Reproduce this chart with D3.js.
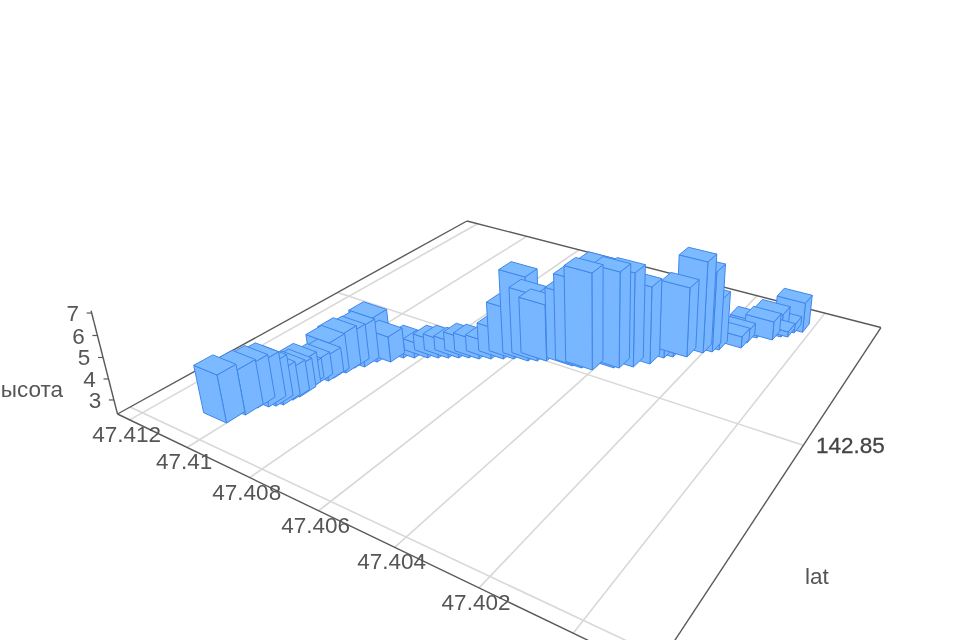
<!DOCTYPE html>
<html><head><meta charset="utf-8"><script src="https://cdn.jsdelivr.net/npm/d3@7"></script>
<style>html,body{margin:0;background:#fff;overflow:hidden}svg{display:block;filter:blur(.5px)}</style></head>
<body><svg id="c" width="960" height="640"></svg>
<script>
const latTicks=[47.412,47.41,47.408,47.406,47.404,47.402,47.4];
const latLabels=["47.412","47.41","47.408","47.406","47.404","47.402","47.4"];
const lngTicks=[142.8,142.85];
const zTicks=[3,4,5,6,7];
const barLat=[47.41039,47.41027,47.41025,47.41006,47.40994,47.40983,47.40979,47.40975,47.40981,47.40990,47.40981,47.40967,47.40965,47.40956,47.40954,47.40936,47.40925,47.40896,47.40881,47.40857,47.40828,47.40805,47.40783,47.40760,47.40738,47.40713,47.40687,47.40660,47.40637,47.40601,47.40581,47.40561,47.40491,47.40467,47.40440,47.40432,47.40399,47.40387,47.40359,47.40330,47.40313,47.40295,47.40265,47.40238,47.40220,47.40209,47.40164,47.40161,47.40149,47.40110,47.40096,47.40081,47.40074,47.40056];
const barLng=[142.80743,142.81069,142.81323,142.81444,142.81529,142.81618,142.81812,142.81940,142.82099,142.82245,142.82402,142.82578,142.82702,142.82941,142.83148,142.83273,142.83523,142.83656,142.83889,142.83997,142.84128,142.84229,142.84326,142.84431,142.84531,142.84599,142.84714,142.84836,142.84941,142.85018,142.85105,142.85197,142.85304,142.85330,142.85372,142.85731,142.85640,142.85687,142.85855,142.86107,142.86432,142.86552,142.86688,142.86979,142.87103,142.87235,142.87524,142.87758,142.88033,142.88119,142.88314,142.88381,142.88598,142.88710];
const barH=[4.58,4.46,4.39,4.48,4.30,3.92,3.78,3.74,3.80,3.27,3.42,3.52,4.07,4.23,4.09,4.29,4.55,3.60,3.10,3.15,2.89,3.15,3.15,3.04,3.25,3.25,3.15,3.76,4.81,6.50,5.63,5.15,5.85,6.60,7.06,7.02,6.22,7.03,6.94,6.15,3.86,5.06,5.80,6.88,6.35,4.89,2.90,2.90,3.17,3.27,3.49,2.59,2.75,3.86];
const P={a:341.7,b:563.9,c:117.5,d:57.9,e:-91.5,f:414,g:-0.2978,h:0.4592,vx:600,vy:2300};
const uS=d3.scaleLinear().domain([47.41245,47.39845]).range([0,1]);
const vS=d3.scaleLinear().domain([142.79756,142.89503]).range([0,1]);
const tS=d3.scaleLinear().domain([2.32,7.1]).range([0,-0.0519]);
const DU=.056,DV=.04;
function pr(u,v,t){const w=P.g*u+P.h*v+1+t;return [(P.a*u+P.b*v+P.c+P.vx*t)/w,(P.d*u+P.e*v+P.f+P.vy*t)/w];}
const s=d3.select("#c");
const line=(p,q,col,wd)=>s.append("line").attr("x1",p[0]).attr("y1",p[1]).attr("x2",q[0]).attr("y2",q[1]).attr("stroke",col).attr("stroke-width",wd);
latTicks.forEach(l=>line(pr(uS(l),0,0),pr(uS(l),1,0),"#d8d8d8",1.6));
lngTicks.forEach(l=>line(pr(0,vS(l),0),pr(1,vS(l),0),"#d8d8d8",1.6));
[[[0,0],[0,1]],[[0,1],[1,1]],[[1,1],[1,0]],[[1,0],[0,0]]].forEach(([p,q])=>line(pr(p[0],p[1],0),pr(q[0],q[1],0),"#5a5a5a",1.4));
line(pr(0,0,0),pr(0,0,tS(7.1)),"#5a5a5a",1.4);
const txt=(x,y,t,an,col)=>s.append("text").attr("x",x).attr("y",y).attr("text-anchor",an||"middle").attr("font-family","Liberation Sans").attr("font-size",22.5).attr("fill",col||"#555").text(t);
zTicks.forEach(z=>{const p=pr(0,0,tS(z));line(p,[p[0]-5,p[1]],"#5a5a5a",1.2);txt(p[0]-19,p[1]+8,z);});
latTicks.forEach((l,i)=>{const p=pr(uS(l),0,0);txt(p[0]-3,p[1]+22,latLabels[i]);});
txt(816,453,"142.85","start","#444").attr("stroke","#444").attr("stroke-width",.3);
txt(63,397,"высота","end");txt(817,584,"lat");
const depth=b=>-0.36*b.u+P.h*b.v;
const bars=barLat.map((l,i)=>({u:uS(l),v:vS(barLng[i]),t:tS(barH[i])})).sort((x,y)=>depth(y)-depth(x));
const poly=pts=>pts.map(p=>p.join(",")).join(" ");
bars.forEach(b=>{const u0=b.u-DU/2,u1=b.u+DU/2,v0=b.v-DV/2,v1=b.v+DV/2,t=b.t;
 const G=s.append("g").attr("stroke","#3f86ea").attr("stroke-width",1).attr("stroke-linejoin","round");
 G.append("polygon").attr("fill","#78b6ff").attr("points",poly([pr(u1,v0,0),pr(u1,v1,0),pr(u1,v1,t),pr(u1,v0,t)]));
 G.append("polygon").attr("fill","#78b6ff").attr("points",poly([pr(u0,v0,0),pr(u1,v0,0),pr(u1,v0,t),pr(u0,v0,t)]));
 G.append("polygon").attr("fill","#7cbaff").attr("points",poly([pr(u0,v0,t),pr(u1,v0,t),pr(u1,v1,t),pr(u0,v1,t)]));
});
</script></body></html>
